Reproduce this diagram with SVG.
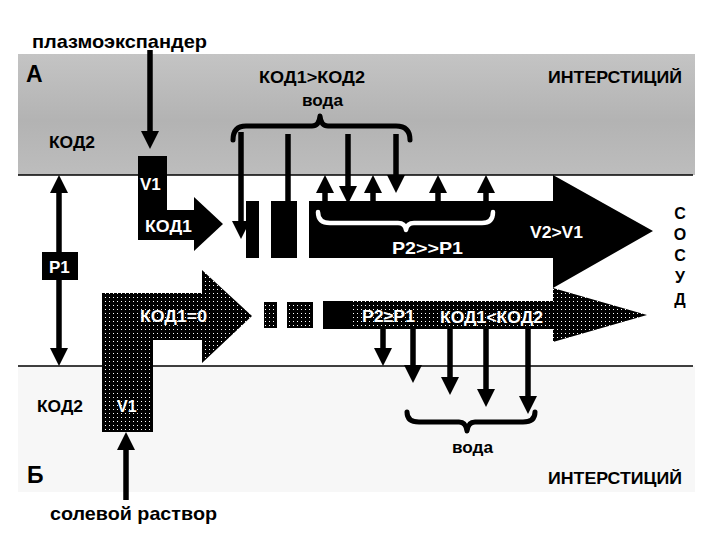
<svg xmlns="http://www.w3.org/2000/svg" width="720" height="540" viewBox="0 0 720 540">
<defs>
<linearGradient id="gTop" x1="0" y1="0" x2="0" y2="1">
<stop offset="0" stop-color="#c4c4c4"/>
<stop offset="0.55" stop-color="#b3b3b3"/>
<stop offset="1" stop-color="#bdbdbd"/>
</linearGradient>
<pattern id="dots" patternUnits="userSpaceOnUse" width="4" height="4">
<rect width="4" height="4" fill="#000"/>
<rect x="1" y="1" width="1" height="1" fill="#fff"/>
</pattern>
<marker id="ah" markerUnits="userSpaceOnUse" markerWidth="18" markerHeight="18" viewBox="0 0 18 18" refX="0" refY="9" orient="auto">
<path d="M0,0 L18,9 L0,18 z" fill="#000"/>
</marker>
</defs>
<style>
text{font-family:"Liberation Sans",Arial,"Noto Sans",sans-serif;font-weight:bold;fill:#000}
.w{fill:#fff}
.ln{stroke:#000;stroke-width:5.5;fill:none}
.arr{stroke:#000;stroke-width:5.5;fill:none;marker-end:url(#ah)}
.br{stroke:#000;stroke-width:5;fill:none;stroke-linecap:round;stroke-linejoin:round}
.brw{stroke:#fff;stroke-width:4.5;fill:none;stroke-linecap:round;stroke-linejoin:round}
.bd{stroke:#000;stroke-width:1.5}
</style>

<g id="background">
<rect x="18" y="54" width="677" height="121" fill="url(#gTop)"/>
<rect x="18" y="366" width="677" height="126" fill="#f7f7f7"/>
<line class="bd" x1="18" y1="175" x2="693" y2="175"/>
<line class="bd" x1="18" y1="366" x2="693" y2="366"/>
</g>

<g id="labels">
<text x="32" y="48" font-size="19" textLength="175" lengthAdjust="spacingAndGlyphs">плазмоэкспандер</text>
<text x="26" y="82" font-size="23">А</text>
<text x="259" y="83" font-size="17" textLength="106" lengthAdjust="spacingAndGlyphs">КОД1&gt;КОД2</text>
<text x="302" y="106" font-size="17" textLength="41" lengthAdjust="spacingAndGlyphs">вода</text>
<text x="548" y="83" font-size="17" textLength="134" lengthAdjust="spacingAndGlyphs">ИНТЕРСТИЦИЙ</text>
<text x="49" y="148" font-size="16" textLength="46" lengthAdjust="spacingAndGlyphs">КОД2</text>
<text x="37" y="412" font-size="16" textLength="46" lengthAdjust="spacingAndGlyphs">КОД2</text>
<text x="27" y="483" font-size="23">Б</text>
<text x="452" y="453" font-size="17" textLength="41" lengthAdjust="spacingAndGlyphs">вода</text>
<text x="548" y="484" font-size="17" textLength="134" lengthAdjust="spacingAndGlyphs">ИНТЕРСТИЦИЙ</text>
<text x="50" y="520" font-size="19" textLength="167" lengthAdjust="spacingAndGlyphs">солевой раствор</text>
<g id="sosud" font-size="16" text-anchor="middle">
<text x="680" y="219">С</text>
<text x="680" y="240">О</text>
<text x="680" y="261">С</text>
<text x="680" y="283">У</text>
<text x="680" y="305">Д</text>
</g>
</g>

<g id="black-inflow">
<polygon points="138,156 167,156 167,210 194,210 194,197 223,224 194,251 194,240 138,240" fill="#000"/>
<text class="w" x="140" y="190" font-size="17">V1</text>
<text class="w" x="145" y="232" font-size="16" textLength="47" lengthAdjust="spacingAndGlyphs">КОД1</text>
</g>

<g id="black-vessel">
<rect x="246" y="201" width="13" height="57" fill="#000"/>
<rect x="271" y="201" width="26" height="57" fill="#000"/>
<polygon points="309,201 553,201 553,175 653,231 553,288 553,258 309,258" fill="#000"/>
<path class="brw" d="M318,212 Q318,223 330,223 L398,223 Q405,223 406,230 Q407,223 414,223 L482,223 Q493,223 493,212"/>
<text class="w" x="392" y="254" font-size="17" textLength="71" lengthAdjust="spacingAndGlyphs">P2&gt;&gt;P1</text>
<text class="w" x="530" y="238" font-size="16" textLength="53" lengthAdjust="spacingAndGlyphs">V2&gt;V1</text>
</g>

<g id="dotted-inflow">
<polygon points="102,293 202,293 202,270 252,316 202,363 202,340 153,340 153,432 102,432" fill="url(#dots)"/>
<text class="w" x="140" y="322" font-size="16" textLength="67" lengthAdjust="spacingAndGlyphs">КОД1=0</text>
<text class="w" x="117" y="412" font-size="16">V1</text>
</g>

<g id="dotted-vessel">
<rect x="264" y="302" width="13" height="26" fill="url(#dots)"/>
<rect x="287" y="302" width="26" height="26" fill="url(#dots)"/>
<polygon points="323,301 553,301 553,288 647,315 553,342 553,329 323,329" fill="url(#dots)"/>
<rect x="323" y="301" width="27" height="28" fill="#000"/>
<text class="w" x="362" y="322" font-size="16" textLength="53" lengthAdjust="spacingAndGlyphs">P2≥P1</text>
<text class="w" x="440" y="323" font-size="16" textLength="103" lengthAdjust="spacingAndGlyphs">КОД1&lt;КОД2</text>
</g>

<g id="p1">
<rect x="42" y="252" width="36" height="28" fill="#000"/>
<text class="w" x="49" y="273" font-size="17">P1</text>
</g>

<g id="connectors">
<line class="arr" x1="150" y1="50" x2="150" y2="131"/>
<line class="arr" x1="126" y1="500" x2="126" y2="450"/>
<line class="arr" x1="59" y1="252" x2="59" y2="193"/>
<line class="arr" x1="59" y1="280" x2="59" y2="348"/>
<path class="br" d="M233,140 Q233,126 246,126 L312,126 Q319,126 320,116 Q321,126 328,126 L396,126 Q410,126 410,140"/>
<line class="arr" x1="241" y1="132" x2="241" y2="221"/>
<line class="ln" x1="288" y1="134" x2="288" y2="202"/>
<line class="arr" x1="348" y1="134" x2="348" y2="186"/>
<line class="arr" x1="396" y1="134" x2="396" y2="175"/>
<line class="arr" x1="325" y1="202" x2="325" y2="193"/>
<line class="arr" x1="373" y1="202" x2="373" y2="193"/>
<line class="arr" x1="438" y1="202" x2="438" y2="193"/>
<line class="arr" x1="486" y1="202" x2="486" y2="193"/>
<line class="arr" x1="383" y1="328" x2="383" y2="348"/>
<line class="arr" x1="413" y1="328" x2="413" y2="365"/>
<line class="arr" x1="450" y1="328" x2="450" y2="377"/>
<line class="arr" x1="486" y1="328" x2="486" y2="389"/>
<line class="arr" x1="528" y1="328" x2="528" y2="396"/>
<path class="br" d="M407,412 Q407,422 419,422 L459,422 Q466,422 467,431 Q468,422 475,422 L523,422 Q535,422 535,412"/>
</g>
</svg>
